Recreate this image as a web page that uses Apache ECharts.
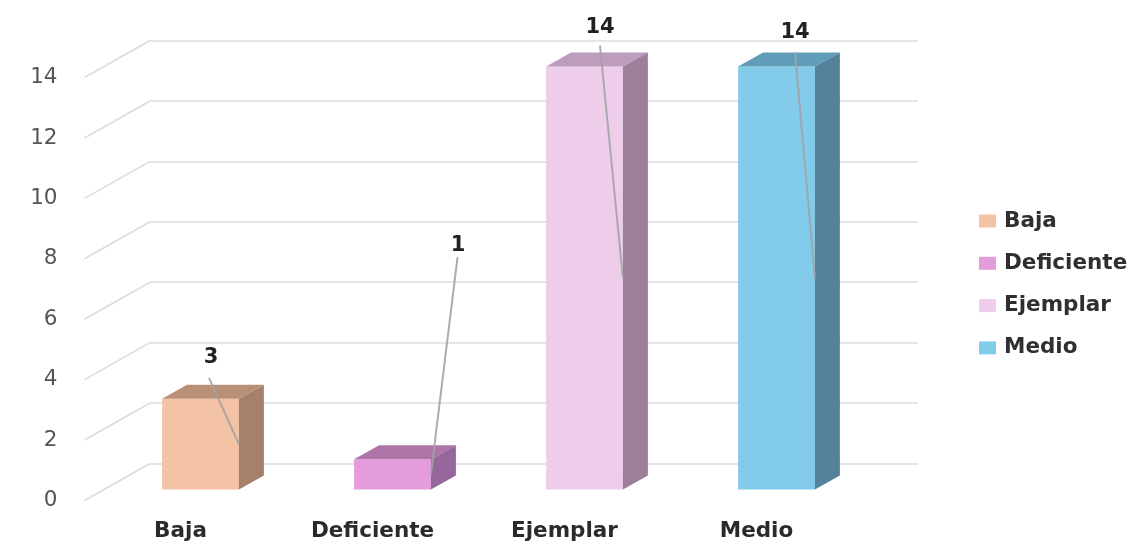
<!DOCTYPE html>
<html>
<head>
<meta charset="utf-8">
<style>html,body{margin:0;padding:0;background:#fff}#c{width:1136px;height:548px}</style>
<script src="https://cdn.jsdelivr.net/npm/echarts@6/dist/echarts.min.js"></script>
</head>
<body>
<div id="c"></div>
<script>
const categories = ['Baja', 'Deficiente', 'Ejemplar', 'Medio'];
const values = [3, 1, 14, 14];
const yTicks = [0, 2, 4, 6, 8, 10, 12, 14];

const FONT = '"DejaVu Sans", sans-serif';
const frontColors = ['#f4c2a5', '#e49cdc', '#eecdeb', '#82cbeb'];
const topColors = ['#b98f78', '#ae73a7', '#bd9dbb', '#5f9db8'];
const sideColors = ['#a6806a', '#96679a', '#9d7f9a', '#55829a'];
// pixel offsets from the front-top centre of each bar: [label dx, label dy, leader dx, leader dy]
const labelOffsets = [[10.5, -41, 8.5, -21], [65.5, -214, 65, -202], [15.5, -39, 15.5, -21], [18.5, -34, 18.5, -14]];
const BAR_DX = 20, BAR_DY = -11, DEPTH_X = 25, DEPTH_Y = -14, WALL_DX = 65.5, WALL_DY = -37;

function poly(points, fill) {
  return { type: 'polygon', shape: { points }, style: { fill, stroke: null } };
}

function barItem(i) {
  return function (params, api) {
    const band = api.size([1, 0])[0];
    const w = band * 0.4;
    const top = api.coord([categories[i], values[i]]);
    const base = api.coord([categories[i], 0]);
    const half = api.coord([categories[i], values[i] / 2]);
    const l = top[0] + BAR_DX - w / 2, r = l + w;
    const t = top[1] + BAR_DY, b = base[1] + BAR_DY, m = half[1] + BAR_DY;
    const cx = (l + r) / 2;
    const o = labelOffsets[i];
    return {
      type: 'group',
      children: [
        poly([[l, b], [r, b], [r, t], [l, t]], frontColors[i]),
        poly([[l, t], [r, t], [r + DEPTH_X, t + DEPTH_Y], [l + DEPTH_X, t + DEPTH_Y]], topColors[i]),
        poly([[r, b], [r, t], [r + DEPTH_X, t + DEPTH_Y], [r + DEPTH_X, b + DEPTH_Y]], sideColors[i]),
        {
          type: 'line',
          shape: { x1: cx + o[2], y1: t + o[3], x2: r, y2: m },
          style: { stroke: '#a3a3a3', lineWidth: 2, opacity: 0.9 }
        },
        {
          type: 'text',
          style: {
            text: String(values[i]), x: cx + o[0], y: t + o[1],
            align: 'center', verticalAlign: 'middle',
            fill: '#222', font: '700 21px ' + FONT
          }
        }
      ]
    };
  };
}

function slantItem(params, api) {
  const p = api.coord([categories[0], api.value(0)]);
  const x = p[0] - api.size([1, 0])[0] / 2;
  return {
    type: 'line',
    shape: { x1: x, y1: p[1], x2: x + WALL_DX, y2: p[1] + WALL_DY },
    style: { stroke: '#dcdcdc', lineWidth: 1.6 }
  };
}

const chart = echarts.init(document.getElementById('c'), null, { renderer: 'canvas' });
chart.setOption({
  backgroundColor: '#fff',
  animation: false,
  grid: [
    { left: 84.5, top: 77.5, width: 768, height: 423 },
    { left: 150, top: 40.5, width: 768, height: 423 }
  ],
  xAxis: [
    {
      type: 'category', data: categories, gridIndex: 0,
      axisLine: { show: false }, axisTick: { show: false },
      axisLabel: { margin: 20, color: '#2a2a2a', fontFamily: FONT, fontSize: 21.5, fontWeight: 700 }
    },
    { type: 'category', data: categories, gridIndex: 1, show: false }
  ],
  yAxis: [
    {
      type: 'value', min: 0, max: 14, interval: 2, gridIndex: 0,
      axisLine: { show: false }, axisTick: { show: false }, splitLine: { show: false },
      axisLabel: { margin: 27, color: '#555', fontFamily: FONT, fontSize: 21.5 }
    },
    {
      type: 'value', min: 0, max: 14, interval: 2, gridIndex: 1,
      axisLine: { show: false }, axisTick: { show: false }, axisLabel: { show: false },
      splitLine: { show: true, lineStyle: { color: '#dcdcdc', width: 1.6 } }
    }
  ],
  legend: {
    orient: 'vertical', left: 974, top: 205, itemWidth: 17, itemHeight: 13, itemGap: 20.3,
    icon: 'rect', data: categories,
    textStyle: { color: '#2f2f2f', fontFamily: FONT, fontSize: 21.5, fontWeight: 700, padding: [0, 0, 0, 3] }
  },
  series: [
    {
      type: 'custom', name: 'slants', xAxisIndex: 0, yAxisIndex: 0, z: 1, silent: true,
      data: yTicks.map(v => [v]), encode: { y: 0 }, renderItem: slantItem
    }
  ].concat(categories.map((name, i) => ({
    type: 'custom', name, xAxisIndex: 0, yAxisIndex: 0, z: 3,
    itemStyle: { color: frontColors[i] },
    data: [[name, values[i]]], encode: { x: 0, y: 1 },
    renderItem: barItem(i)
  })))
});
</script>
</body>
</html>
